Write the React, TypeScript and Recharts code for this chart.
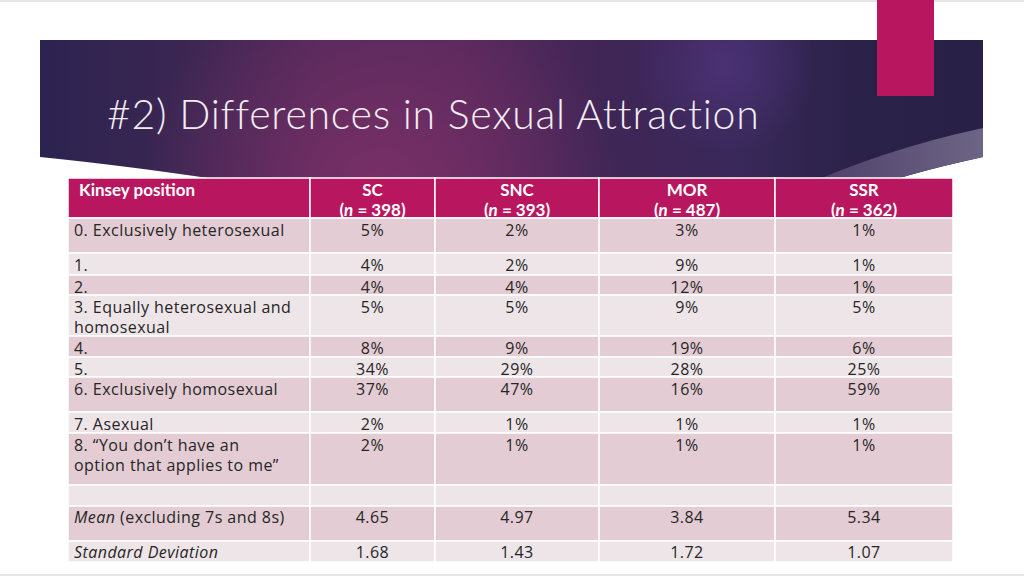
import { ScatterChart, XAxis, YAxis, ReferenceArea, Scatter } from "recharts";

const groups = ["SC", "SNC", "MOR", "SSR"];
const sampleSizes = [398, 393, 487, 362];

const kinseyLabels = [
  ["0. Exclusively heterosexual"],
  ["1."],
  ["2."],
  ["3. Equally heterosexual and", "homosexual"],
  ["4."],
  ["5."],
  ["6.  Exclusively homosexual"],
  ["7. Asexual"],
  ["8. \u201cYou don\u2019t have an", "option that applies to me\u201d"],
];

const scPct = [5, 4, 4, 5, 8, 34, 37, 2, 2];
const sncPct = [2, 2, 4, 5, 9, 29, 47, 1, 1];
const morPct = [3, 9, 12, 9, 19, 28, 16, 1, 1];
const ssrPct = [1, 1, 1, 5, 6, 25, 59, 1, 1];

const meanScores = ["4.65", "4.97", "3.84", "5.34"];
const sdScores = ["1.68", "1.43", "1.72", "1.07"];

// layout (pixels)
const W = 1024;
const H = 576;
const colEdges = [68, 310, 435, 599, 775, 953];
const rowHeights = [40, 35, 22, 20, 41, 21, 20, 35, 21, 52, 21, 35, 21];
const tableTop = 178;
const rowTops: number[] = [];
rowHeights.reduce((acc, h) => {
  rowTops.push(acc);
  return acc + h;
}, tableTop);

const pink = "#b8175f";
const darkRow = "#e3ccd3";
const lightRow = "#eee5e9";
const ink = "#262626";
const bodyFont = "'Open Sans', Lato, sans-serif";
const titleFont = "Lato, 'Open Sans', sans-serif";

type Run = { t: string; italic?: boolean };
type TextItem = {
  x: number;
  y: number;
  lines: Run[][];
  anchor: "start" | "middle";
  color: string;
  bold?: boolean;
};

const valueCols = [scPct, sncPct, morPct, ssrPct];
const colCenter = (c: number) => (colEdges[c + 1] + colEdges[c + 2]) / 2;

const texts: TextItem[] = [];
texts.push({
  x: 79,
  y: rowTops[0] + 11,
  lines: [[{ t: "Kinsey position" }]],
  anchor: "start",
  color: "#fff",
  bold: true,
});
groups.forEach((g, i) => {
  texts.push({
    x: colCenter(i),
    y: rowTops[0] + 11,
    lines: [
      [{ t: g }],
      [{ t: "(" }, { t: "n", italic: true }, { t: ` = ${sampleSizes[i]})` }],
    ],
    anchor: "middle",
    color: "#fff",
    bold: true,
  });
});
kinseyLabels.forEach((lbl, r) => {
  const y = rowTops[r + 1] + 11.5;
  texts.push({ x: 74, y, lines: lbl.map((l) => [{ t: l }]), anchor: "start", color: ink });
  valueCols.forEach((vals, c) => {
    texts.push({ x: colCenter(c), y, lines: [[{ t: `${vals[r]}%` }]], anchor: "middle", color: ink });
  });
});
texts.push({
  x: 74,
  y: rowTops[11] + 11,
  lines: [[{ t: "Mean", italic: true }, { t: " (excluding 7s and 8s)" }]],
  anchor: "start",
  color: ink,
});
texts.push({
  x: 74,
  y: rowTops[12] + 10.5,
  lines: [[{ t: "Standard Deviation", italic: true }]],
  anchor: "start",
  color: ink,
});
groups.forEach((_, c) => {
  texts.push({ x: colCenter(c), y: rowTops[11] + 11, lines: [[{ t: meanScores[c] }]], anchor: "middle", color: ink });
  texts.push({ x: colCenter(c), y: rowTops[12] + 10.5, lines: [[{ t: sdScores[c] }]], anchor: "middle", color: ink });
});

function CellText(props: any) {
  const { cx, cy, payload } = props;
  const item = payload as TextItem;
  return (
    <text
      x={cx}
      y={cy}
      textAnchor={item.anchor}
      fill={item.color}
      fontFamily={item.bold ? titleFont : bodyFont}
      fontSize={item.bold ? 17 : 16}
      fontWeight={item.bold ? 700 : 400}
      letterSpacing={item.bold ? 0 : 0.45}
    >
      {item.lines.map((line, li) => (
        <tspan key={li} x={cx} y={cy + li * 20.5} dominantBaseline="central">
          {line.map((run, ri) => (
            <tspan key={ri} fontStyle={run.italic ? "italic" : "normal"}>
              {run.t}
            </tspan>
          ))}
        </tspan>
      ))}
    </text>
  );
}

const bannerPath = "M40,40 L983,40 L983,157 Q900,175 860,192 L300,192 Q150,168 40,157 Z";

function Banner() {
  return (
    <svg width={W} height={H} style={{ position: "absolute", left: 0, top: 0 }}>
      <defs>
        <linearGradient id="bannerBase" x1="0" y1="0" x2="1" y2="0">
          <stop offset="0%" stopColor="#2c2350" />
          <stop offset="14%" stopColor="#3a2652" />
          <stop offset="30%" stopColor="#4f2958" />
          <stop offset="45%" stopColor="#53285a" />
          <stop offset="60%" stopColor="#3f2656" />
          <stop offset="75%" stopColor="#382859" />
          <stop offset="86%" stopColor="#2b2249" />
          <stop offset="100%" stopColor="#282046" />
        </linearGradient>
        <radialGradient id="glowPink" cx="380" cy="195" r="240" gradientUnits="userSpaceOnUse">
          <stop offset="0%" stopColor="#7c3069" stopOpacity={0.95} />
          <stop offset="100%" stopColor="#7c3069" stopOpacity={0} />
        </radialGradient>
        <radialGradient id="glowBlue" cx="725" cy="65" r="90" gradientUnits="userSpaceOnUse">
          <stop offset="0%" stopColor="#4e3379" stopOpacity={0.85} />
          <stop offset="100%" stopColor="#4e3379" stopOpacity={0} />
        </radialGradient>
        <linearGradient id="wedge" x1="983" y1="0" x2="790" y2="0" gradientUnits="userSpaceOnUse">
          <stop offset="0%" stopColor="#6d6585" />
          <stop offset="100%" stopColor="#4a3a66" />
        </linearGradient>
      </defs>
      <rect x={0} y={0} width={W} height={2} fill="#e6e6e6" />
      <rect x={0} y={574} width={W} height={2} fill="#e6e6e6" />
      <path d={bannerPath} fill="url(#bannerBase)" />
      <path d={bannerPath} fill="url(#glowPink)" />
      <path d={bannerPath} fill="url(#glowBlue)" />
      <path d="M983,128 Q880,150 790,192 L860,192 Q900,175 983,157 Z" fill="url(#wedge)" />
      <rect x={877} y={0} width={57} height={96} fill={pink} />
      <text
        x={107}
        y={113}
        fill="#f3edf3"
        fontFamily={titleFont}
        fontWeight={300}
        fontSize={41}
        letterSpacing={0.75}
        dominantBaseline="central"
      >
        #2) Differences in Sexual Attraction
      </text>
    </svg>
  );
}

export default function App() {
  return (
    <div style={{ position: "absolute", left: 0, top: 0, width: W, height: H, background: "#fff" }}>
      <Banner />
      <div style={{ position: "absolute", left: 0, top: 0 }}>
        <ScatterChart width={W} height={H} margin={{ top: 0, right: 0, bottom: 0, left: 0 }}>
          <XAxis type="number" dataKey="x" domain={[0, W]} hide allowDataOverflow />
          <YAxis type="number" dataKey="y" domain={[0, H]} reversed hide allowDataOverflow />
          {rowHeights.map((h, r) =>
            colEdges.slice(0, -1).map((x0, c) => (
              <ReferenceArea
                key={`${r}-${c}`}
                x1={x0}
                x2={colEdges[c + 1]}
                y1={rowTops[r]}
                y2={rowTops[r] + h}
                fill={r === 0 ? pink : r % 2 === 1 ? darkRow : lightRow}
                fillOpacity={1}
                stroke="#ffffff"
                strokeWidth={1.5}
                ifOverflow="visible"
              />
            ))
          )}
          <Scatter data={texts} isAnimationActive={false} shape={(p: any) => <CellText {...p} />} />
        </ScatterChart>
      </div>
    </div>
  );
}
